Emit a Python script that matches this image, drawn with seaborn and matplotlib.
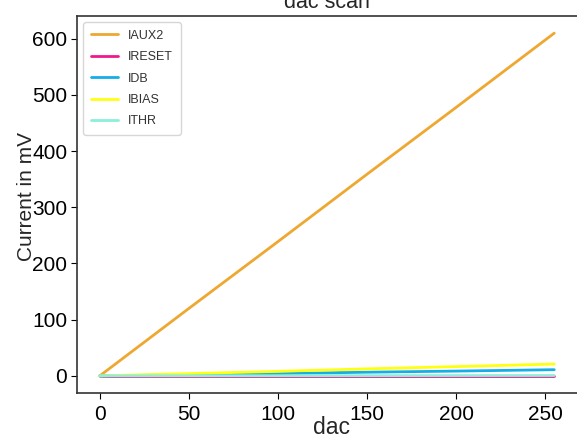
import pandas as pd
import matplotlib
matplotlib.use("Agg")
import matplotlib.pyplot as plt
import seaborn as sns

dac = [0, 50, 100, 150, 200, 255]
iaux2 = [0, 120, 239, 359, 478, 610]
ireset = [0, 0, 0, 0, 0, 0]
idb = [0, 2, 4, 6.5, 8.5, 11]
ibias = [0, 4, 8, 12.5, 16.5, 21]
ithr = [0, 0.2, 0.3, 0.4, 0.5, 0.6]

series = ["IAUX2", "IRESET", "IDB", "IBIAS", "ITHR"]
colores = ["#eea831", "#f0188c", "#16aee6", "#ffff10", "#8ceedb"]

df = pd.DataFrame({
    "dac": dac * 5,
    "current": iaux2 + ireset + idb + ibias + ithr,
    "serie": [s for s in series for _ in dac],
})

sns.set_style("ticks")
plt.rcParams["font.family"] = ["Liberation Sans", "DejaVu Sans"]

fig = plt.figure(figsize=(5.77, 4.37), dpi=100)
ax = fig.add_axes([77 / 577, 1 - 393 / 437, 500 / 577, (393 - 16) / 437])

sns.lineplot(data=df, x="dac", y="current", hue="serie", hue_order=series,
             palette=colores, linewidth=2, ax=ax)

ax.set_title("dac scan", fontsize=15.5, pad=6)
ax.set_xlabel("dac", fontsize=16.5)
ax.set_ylabel("Current in mV", fontsize=15)
ax.xaxis.set_label_coords(0.508, -0.062)
ax.yaxis.set_label_coords(-0.082, 0.52)
ax.tick_params(labelsize=15, colors="black", pad=3, length=4)
ax.tick_params(axis="x", pad=5)
ax.set_yticks([0, 100, 200, 300, 400, 500, 600])
ax.set_xticks([0, 50, 100, 150, 200, 250])
for s in ax.spines.values():
    s.set_color("#333333")
    s.set_linewidth(1.2)
ax.spines["right"].set_visible(False)

leg = ax.legend(loc="upper left", fontsize=9, frameon=True, handlelength=2.2,
                labelspacing=0.75, borderpad=0.6)
for t in leg.get_texts():
    t.set_color("#333333")

fig.savefig("out.png", dpi=100)
